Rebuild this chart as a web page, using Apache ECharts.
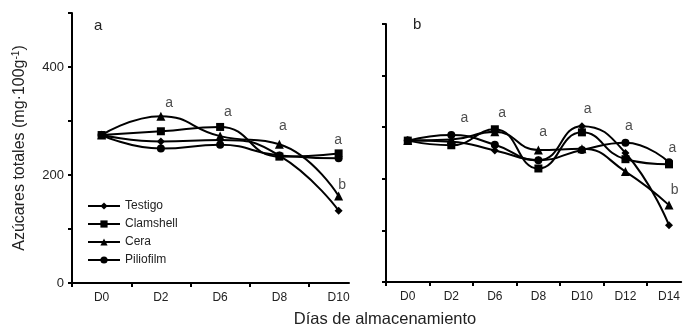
<!DOCTYPE html>
<html>
<head>
<meta charset="utf-8">
<script src="https://cdn.jsdelivr.net/npm/echarts@6/dist/echarts.min.js"></script>
<style>
  html, body { margin: 0; padding: 0; background: #fff; }
  #chart { width: 683px; height: 330px; }
</style>
</head>
<body>
<div id="chart"></div>
<script>
// panel a
var diasA = ['D0', 'D2', 'D6', 'D8', 'D10'];
var testigoA = [274, 262, 265, 236, 134];
var clamshellA = [274, 281, 289, 234, 240];
var ceraA = [274, 309, 272, 257, 161];
var piliofilmA = [274, 249, 256, 236, 231];
// letras de significancia panel a
var letraA_x = [1.14, 2.13, 3.06, 3.99, 4.06];
var letraA_y = [333, 317, 291, 265, 181];
var letraA_t = ['a', 'a', 'a', 'a', 'b'];

// panel b
var diasB = ['D0', 'D2', 'D6', 'D8', 'D10', 'D12', 'D14'];
var testigoB = [274, 272, 255, 236, 302, 250, 110];
var clamshellB = [274, 265, 296, 220, 290, 238, 228];
var ceraB = [274, 276, 291, 256, 258, 214, 149];
var piliofilmB = [274, 285, 266, 236, 256, 270, 232];
var letraB_x = [1.30, 2.17, 3.11, 4.13, 5.08, 6.08, 6.13];
var letraB_y = [318, 328, 291, 335, 302, 260, 178];
var letraB_t = ['a', 'a', 'a', 'a', 'a', 'a', 'b'];

var nombres = ['Testigo', 'Clamshell', 'Cera', 'Piliofilm'];
var simbolos = ['diamond', 'rect', 'triangle', 'circle'];
var tamanos = [8, 8, 9, 8];

var fuente = 'Liberation Sans, Arial, Helvetica, sans-serif';

function pares(vals) {
    var out = [];
    for (var i = 0; i < vals.length; i++) out.push([i, vals[i]]);
    return out;
}
function letras(xs, ys, ts) {
    var out = [];
    for (var i = 0; i < xs.length; i++) out.push({value: [xs[i], ys[i]], txt: ts[i]});
    return out;
}
function rango(a, b) {
    var out = [];
    for (var v = a; v <= b; v++) out.push(v);
    return out;
}

var datosA = [testigoA, clamshellA, ceraA, piliofilmA];
var datosB = [testigoB, clamshellB, ceraB, piliofilmB];

var series = [];
for (var k = 0; k < 4; k++) {
    series.push({
        name: nombres[k], type: 'line', xAxisIndex: 0, yAxisIndex: 0,
        smooth: 0.5, symbol: simbolos[k], symbolSize: tamanos[k],
        lineStyle: {color: '#000', width: 2}, itemStyle: {color: '#000'},
        data: pares(datosA[k]), z: 3
    });
    series.push({
        name: nombres[k], type: 'line', xAxisIndex: 1, yAxisIndex: 1,
        smooth: 0.5, symbol: simbolos[k], symbolSize: tamanos[k],
        lineStyle: {color: '#000', width: 2}, itemStyle: {color: '#000'},
        data: pares(datosB[k]), z: 3
    });
}
var letraSerie = function (xi, data) {
    return {
        type: 'scatter', xAxisIndex: xi, yAxisIndex: xi, symbolSize: 1,
        itemStyle: {color: 'transparent'}, silent: true,
        label: {show: true, position: 'inside', color: '#222', fontSize: 14, fontFamily: fuente,
            formatter: function (p) { return p.data.txt; }},
        data: data
    };
};
series.push(letraSerie(0, letras(letraA_x, letraA_y, letraA_t)));
series.push(letraSerie(1, letras(letraB_x, letraB_y, letraB_t)));

function ejeX(grid, dias, maxv) {
    return {
        type: 'value', gridIndex: grid, min: -0.5, max: maxv,
        axisLine: {show: true, onZero: false, lineStyle: {color: '#000', width: 2}},
        axisTick: {show: true, length: 4, lineStyle: {color: '#000', width: 2},
            customValues: rango(0, dias.length - 1).map(function (v) { return v - 0.5; })},
        axisLabel: {show: true, color: '#222', fontSize: 12, fontFamily: fuente, margin: 9,
            customValues: rango(0, dias.length - 1),
            formatter: function (v) { return dias[Math.round(v)]; }},
        splitLine: {show: false}
    };
}

var chart = echarts.init(document.getElementById('chart'));
chart.setOption({
    animation: false,
    textStyle: {fontFamily: fuente},
    grid: [
        {left: 72, top: 13, width: 277, height: 270},
        {left: 386, top: 24, width: 297, height: 258}
    ],
    xAxis: [ejeX(0, diasA, 4.175), ejeX(1, diasB, 6.28)],
    yAxis: [
        {
            type: 'value', gridIndex: 0, min: 0, max: 500, interval: 100,
            name: 'Azúcares totales (mg·100g{sup|-1})', nameLocation: 'middle', nameGap: 44,
            nameTextStyle: {color: '#222', fontSize: 16, fontFamily: fuente,
                rich: {sup: {fontSize: 10, fontFamily: fuente, color: '#222', padding: [0, 0, 7, 0]}}},
            axisLine: {show: true, onZero: false, lineStyle: {color: '#000', width: 2}},
            axisTick: {show: true, length: 4, lineStyle: {color: '#000', width: 2}},
            axisLabel: {color: '#222', fontSize: 13, fontFamily: fuente, margin: 8,
                formatter: function (v) { return v % 200 === 0 ? v : ''; }},
            splitLine: {show: false}
        },
        {
            type: 'value', gridIndex: 1, min: 0, max: 500, interval: 100,
            axisLine: {show: true, onZero: false, lineStyle: {color: '#000', width: 2}},
            axisTick: {show: true, length: 4, lineStyle: {color: '#000', width: 2}},
            axisLabel: {show: false},
            splitLine: {show: false}
        }
    ],
    legend: {
        data: nombres, orient: 'vertical', left: 82, top: 195,
        itemWidth: 32, itemHeight: 9, itemGap: 6,
        textStyle: {color: '#222', fontSize: 12, fontFamily: fuente}
    },
    graphic: [
        {type: 'text', left: 94, top: 18, style: {text: 'a', fontSize: 15, fill: '#222', fontFamily: fuente}},
        {type: 'text', left: 413, top: 17, style: {text: 'b', fontSize: 15, fill: '#222', fontFamily: fuente}},
        {type: 'text', x: 385, y: 311, style: {text: 'Días de almacenamiento', fontSize: 16.5, fill: '#222',
            fontFamily: fuente, textAlign: 'center'}}
    ],
    series: series
});
</script>
</body>
</html>
